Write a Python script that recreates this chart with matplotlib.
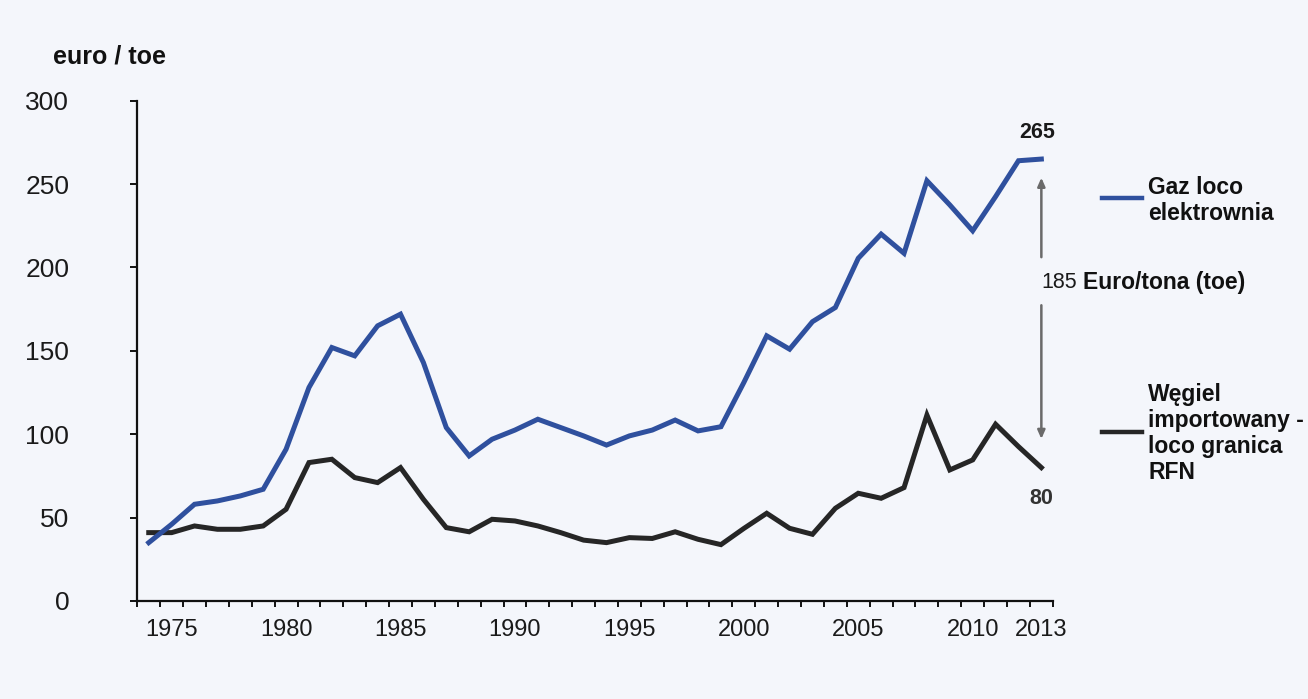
import matplotlib
matplotlib.use("Agg")
import matplotlib.pyplot as plt
from matplotlib.lines import Line2D

plt.rcParams['font.family'] = ['Liberation Sans', 'DejaVu Sans']

# ---- data ----
years = list(range(1974, 2014))
gas = [35, 46, 58, 60, 63, 67, 91, 128, 152, 147, 165, 172, 143, 104,
       87, 97, 102.5, 109, 104, 99, 93.5, 99, 102.5, 108.5, 102, 104.5,
       131, 159, 151, 167.5, 176, 205.5, 220, 208.5, 252, 237.5, 222, 242.5, 264, 265]
coal = [41, 41, 45, 43, 43, 45, 55, 83, 85, 74, 71, 80, 61, 44,
        41.5, 49, 48, 45, 41, 36.5, 35, 38, 37.5, 41.5, 37, 33.8,
        43.5, 52.6, 43.6, 40, 55.6, 64.6, 61.6, 68, 111.5, 78.6, 84.6, 106, 92.6, 80]
x_labels = [1975, 1980, 1985, 1990, 1995, 2000, 2005, 2010, 2013]
y_ticks = [0, 50, 100, 150, 200, 250, 300]
gas_label = "Gaz loco\nelektrownia"
coal_label = "Węgiel\nimportowany -\nloco granica\nRFN"
y_unit = "euro / toe"
diff_value = "185"
diff_unit = "Euro/tona (toe)"

W, H = 1308, 699
fig = plt.figure(figsize=(W / 100, H / 100), dpi=100)
fig.patch.set_facecolor('#f4f6fb')

def fx(px):
    return px / W

def fy(py):
    return (H - py) / H

ax = fig.add_axes([fx(137.3), fy(601), fx(1052.8) - fx(137.3), fy(100.7) - fy(601)])
ax.set_facecolor('none')

blue = '#2f509e'
black = '#262626'
ax.plot(years, coal, color=black, lw=3.6, solid_joinstyle='miter', zorder=3)
ax.plot(years, gas, color=blue, lw=3.6, solid_joinstyle='miter', zorder=4)

ax.set_xlim(1973.5, 2013.5)
ax.set_ylim(0, 300)

for s in ['top', 'right']:
    ax.spines[s].set_visible(False)
for s in ['left', 'bottom']:
    ax.spines[s].set_linewidth(1.6)
    ax.spines[s].set_color('#111111')

# x ticks: tick marks between categories, labels at categories
ax.set_xticks([1973.5 + k for k in range(41)])
ax.set_xticklabels([])
ax.set_xticks(x_labels, minor=True)
ax.set_xticklabels([str(v) for v in x_labels], minor=True, fontsize=17, color='#1a1a1a')
ax.tick_params(axis='x', which='major', direction='out', length=4, width=1.4, color='#111111')
ax.tick_params(axis='x', which='minor', length=0, pad=13)

ax.set_yticks(y_ticks)
ax.set_yticklabels([str(v) for v in y_ticks], fontsize=19, color='#1a1a1a')
ax.tick_params(axis='y', direction='out', length=5, width=1.4, color='#111111', pad=44)

# y unit label
fig.text(fx(53), fy(56), y_unit, fontsize=18, fontweight='bold', ha='left', va='center',
         color='#111111')

# double arrow showing the spread (split around the text)
arrow_kw = dict(arrowstyle='-|>,head_length=0.5,head_width=0.22', color='#6a6a6a', lw=1.8)
ax.annotate('', xy=(2013, 255.5), xytext=(2013, 204.5), arrowprops=arrow_kw,
            annotation_clip=False)
ax.annotate('', xy=(2013, 95.5), xytext=(2013, 179), arrowprops=arrow_kw,
            annotation_clip=False)

ax.text(2012.8, 281, "265", fontsize=15.5, fontweight='bold', ha='center', va='center',
        color='#1a1a1a', clip_on=False)
ax.text(2013.0, 61.5, "80", fontsize=15.5, fontweight='bold', ha='center', va='center',
        color='#333333', clip_on=False)
fig.text(fx(1041.5), fy(283), diff_value, fontsize=15.5, ha='left', va='center', color='#1a1a1a')
fig.text(fx(1083), fy(283), diff_unit, fontsize=16.5, fontweight='bold', ha='left', va='center',
         color='#111111')

# legend
fig.add_artist(Line2D([fx(1101.7), fx(1141.7)], [fy(198.3), fy(198.3)], color=blue, lw=3.2))
fig.add_artist(Line2D([fx(1101.7), fx(1141.7)], [fy(431.7), fy(431.7)], color=black, lw=3.2))
fig.text(fx(1148.3), fy(200.3), gas_label, fontsize=16.5, fontweight='bold', ha='left',
         va='center', linespacing=1.17, color='#111111')
fig.text(fx(1148.3), fy(433.3), coal_label, fontsize=16.5, fontweight='bold', ha='left',
         va='center', linespacing=1.17, color='#111111')

fig.savefig('out.png', dpi=100, facecolor=fig.get_facecolor())
